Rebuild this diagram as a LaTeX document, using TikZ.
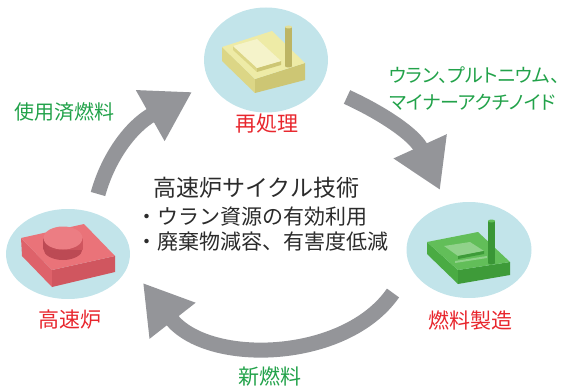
\documentclass[tikz,border=0pt]{standalone}
\usepackage{fontspec}
\newfontfamily\jpfont{Noto Sans CJK JP}
\newfontfamily\jppalt[RawFeature=+palt]{Noto Sans CJK JP}
\usetikzlibrary{shapes.geometric,arrows.meta}
\definecolor{poolblue}{HTML}{C2E4EA}
\definecolor{ringgray}{HTML}{949599}
\definecolor{stagered}{HTML}{E8262D}
\definecolor{flowgreen}{HTML}{22A24A}
\definecolor{inktext}{HTML}{2B2B2B}
\definecolor{ytop}{HTML}{EEEBA6}
\definecolor{yleft}{HTML}{DCD686}
\definecolor{yfront}{HTML}{CDC674}
\definecolor{yrod}{HTML}{BDB564}
\definecolor{gtop}{HTML}{62BE59}
\definecolor{gleft}{HTML}{4AAB43}
\definecolor{gfront}{HTML}{3E9B39}
\definecolor{grod}{HTML}{3A9636}
\definecolor{rtop}{HTML}{EA7379}
\definecolor{rleft}{HTML}{DE626A}
\definecolor{rfront}{HTML}{D0565F}
\definecolor{rcyl}{HTML}{BC4A54}
\definecolor{rcap}{HTML}{EC7D83}
\begin{document}
\begin{tikzpicture}[x=1pt,y=-1pt,
    pool/.style={ellipse,fill=poolblue,inner sep=0pt},
    ringarrow/.style={draw=ringgray,line width=15pt,-{Triangle[length=48pt,width=55pt]}},
    stage/.style={inner sep=0pt,text=stagered,font=\jpfont\fontsize{21}{25}\selectfont},
    flow/.style={inner sep=0pt,text=flowgreen,font=\jpfont\fontsize{20}{24}\selectfont},
    core/.style={inner sep=0pt,anchor=west,text=inktext,font=\jpfont\fontsize{21}{25}\selectfont}]
\useasboundingbox (0,0) rectangle (569,387);

% stage bubbles
\node[pool,minimum width=124pt,minimum height=105pt] (repro) at (266,60) {};
\node[pool,minimum width=125pt,minimum height=96pt] (fab) at (469,250) {};
\node[pool,minimum width=124pt,minimum height=90pt] (fbr) at (68,254) {};

% reprocessing plant (yellow)
\fill[yleft] (222,47) -- (255,79) -- (255,93) -- (222,61) -- cycle;
\fill[yfront] (255,79) -- (305,63) -- (305,80) -- (255,93) -- cycle;
\fill[ytop] (222,47) -- (272,31) -- (305,63) -- (255,79) -- cycle;
\fill[yleft] (233,46) -- (257,68) -- (257,72) -- (233,50) -- cycle;
\fill[yfront] (257,68) -- (281,61) -- (281,65) -- (257,72) -- cycle;
\fill[ytop!60!white] (233,46) -- (257,39) -- (281,61) -- (257,68) -- cycle;
\fill[yrod] (288.5,66) ellipse [x radius=3.5pt,y radius=1.5pt];
\fill[yrod] (285,27) rectangle (292,66);
\fill[ytop!80!yrod] (288.5,27) ellipse [x radius=3.5pt,y radius=1.5pt];

% fuel fabrication plant (green)
\fill[gleft] (427,242) -- (458,270) -- (458,284) -- (427,254) -- cycle;
\fill[gfront] (458,270) -- (510,262) -- (510,275) -- (458,284) -- cycle;
\fill[gtop] (427,242) -- (478,232) -- (510,262) -- (458,270) -- cycle;
\fill[gtop!70!white] (444,246) -- (470,242) -- (484,251) -- (458,256) -- cycle;
\fill[gfront] (458,256) -- (484,251) -- (484,254) -- (458,259) -- cycle;
\fill[gtop!70!white] (455,261) -- (487,256) -- (487,258) -- (455,263) -- cycle;
\fill[grod] (491.5,263) ellipse [x radius=3.5pt,y radius=1.5pt];
\fill[grod] (488,221) rectangle (495,263);
\fill[gtop] (491.5,221) ellipse [x radius=3.5pt,y radius=1.5pt];

% fast reactor (red)
\fill[rleft] (21,238) -- (52,270) -- (52,287) -- (22,256) -- cycle;
\fill[rfront] (52,270) -- (115,256) -- (115,272) -- (52,287) -- cycle;
\fill[rtop] (21,238) -- (84,224) -- (115,256) -- (52,270) -- cycle;
\fill[rcyl] (63,249) ellipse [x radius=19.5pt,y radius=11pt];
\shade[left color=rcyl,right color=rfront] (43.5,238) rectangle (82.5,249);
\fill[rcap] (63,238) ellipse [x radius=19.5pt,y radius=11.5pt];

% cycle arrows
\coordinate (spentS) at (98,194);
\coordinate (spentE) at (192,92);
\coordinate (truS) at (347,97);
\coordinate (truE) at (440,190);
\coordinate (freshS) at (393,293);
\coordinate (freshE) at (143,283);
\draw[ringarrow] (spentS) .. controls (108,158) and (130,127) .. (spentE);
\draw[ringarrow] (truS) .. controls (382,113) and (415,135) .. (truE);
\draw[ringarrow] (freshS) .. controls (345,362) and (208,366) .. (freshE);

% labels
\node[stage] (reprolbl) at (267,124) {再処理};
\node[stage] (fablbl) at (470,320) {燃料製造};
\node[stage] (fbrlbl) at (70,320) {高速炉};
\node[flow] (spent) at (64,112) {使用済燃料};
\node[flow,anchor=west,align=left,font=\jppalt\fontsize{19}{27}\selectfont] (tru) at (389,88.5) {ウラン、プルトニウム、\\マイナーアクチノイド};
\node[flow,font=\jpfont\fontsize{21}{25}\selectfont] (fresh) at (270,377) {新燃料};
\node[core,font=\jpfont\fontsize{23}{27}\selectfont] (title) at (153,188) {高速炉サイクル技術};
\node[core] (merit1) at (136,217) {・ウラン資源の有効利用};
\node[core] (merit2) at (136,242) {・廃棄物減容、有害度低減};
\end{tikzpicture}
\end{document}
